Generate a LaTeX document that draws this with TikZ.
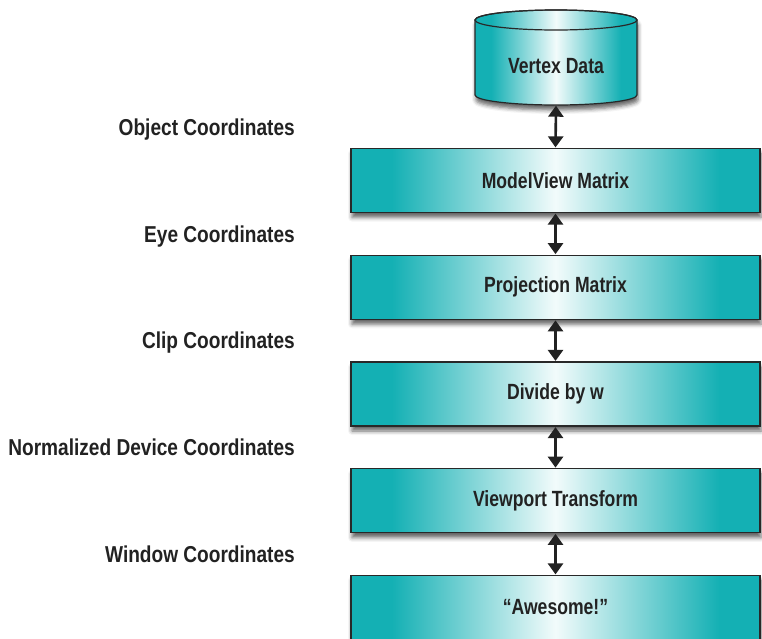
\documentclass[tikz,border=0pt]{standalone}
\usepackage{fontspec}
\newfontfamily\lblfont{Liberation Sans}[FakeStretch=0.83]
\newfontfamily\boxfont{Liberation Sans}[FakeStretch=0.80]
\usetikzlibrary{arrows.meta,shadows.blur}
\definecolor{tealc}{RGB}{20,176,180}
\definecolor{lightc}{RGB}{242,251,251}
\definecolor{linec}{RGB}{40,40,40}
\definecolor{textc}{RGB}{34,34,34}
\pgfdeclarehorizontalshading{boxshade}{100bp}{color(0bp)=(tealc); color(25bp)=(tealc); color(30bp)=(tealc); color(50bp)=(lightc); color(70bp)=(tealc); color(75bp)=(tealc); color(100bp)=(tealc)}
\tikzset{
  stage/.style={draw=linec, line width=1.2pt, shading=boxshade, minimum width=409pt,
    minimum height=64pt, inner sep=0pt, font=\boxfont\bfseries\fontsize{22}{26}\selectfont,
    text=textc, blur shadow={shadow xshift=1pt, shadow yshift=-5pt, shadow blur radius=4pt, shadow opacity=60}},
  lbl/.style={font=\lblfont\bfseries\fontsize{23}{27}\selectfont, text=textc, anchor=base east, inner sep=0pt},
  conn/.style={draw=textc, line width=2.6pt, {Triangle[width=15pt,length=11pt]}-{Triangle[width=15pt,length=11pt]}, shorten <=0.5pt, shorten >=0.5pt},
}
\begin{document}
\begin{tikzpicture}[x=1pt,y=-1pt]
\useasboundingbox (0,0) rectangle (762,638);
\clip (0,0) rectangle (762,638);
% cylinder
\path[draw=linec, line width=1.2pt, shading=boxshade,
  blur shadow={shadow xshift=1pt, shadow yshift=-5pt, shadow blur radius=4pt, shadow opacity=60}]
  (475,20) -- (475,95) arc[start angle=180, end angle=0, x radius=81, y radius=10]
  -- (637,20) arc[start angle=0, end angle=-180, x radius=81, y radius=10] -- cycle;
\draw[linec, line width=1.2pt] (556,20) ellipse [x radius=81, y radius=10];
\node[minimum width=162pt, minimum height=95pt, inner sep=0pt] (vd) at (556,57.5) {};
\node[font=\boxfont\bfseries\fontsize{22}{26}\selectfont, text=textc] (vdt) at (556,66) {Vertex Data};
% stages
\node[stage] (mv) at (555.5,180.5) {ModelView Matrix};
\node[stage] (pj) at (555.5,287.25) {Projection Matrix};
\node[stage] (dv) at (555.5,394) {Divide by w};
\node[stage] (vp) at (555.5,500.75) {Viewport Transform};
\node[stage] (aw) at (555.5,607.5) {“Awesome!”};
% connectors
\draw[conn] (vd.south) -- (mv.north);
\draw[conn] (mv.south) -- (pj.north);
\draw[conn] (pj.south) -- (dv.north);
\draw[conn] (dv.south) -- (vp.north);
\draw[conn] (vp.south) -- (aw.north);
% labels
\node[lbl] (l1) at (295,135.5) {Object Coordinates};
\node[lbl] (l2) at (295,242) {Eye Coordinates};
\node[lbl] (l3) at (295,348.5) {Clip Coordinates};
\node[lbl] (l4) at (295,455.5) {Normalized Device Coordinates};
\node[lbl] (l5) at (295,562) {Window Coordinates};
\end{tikzpicture}
\end{document}
